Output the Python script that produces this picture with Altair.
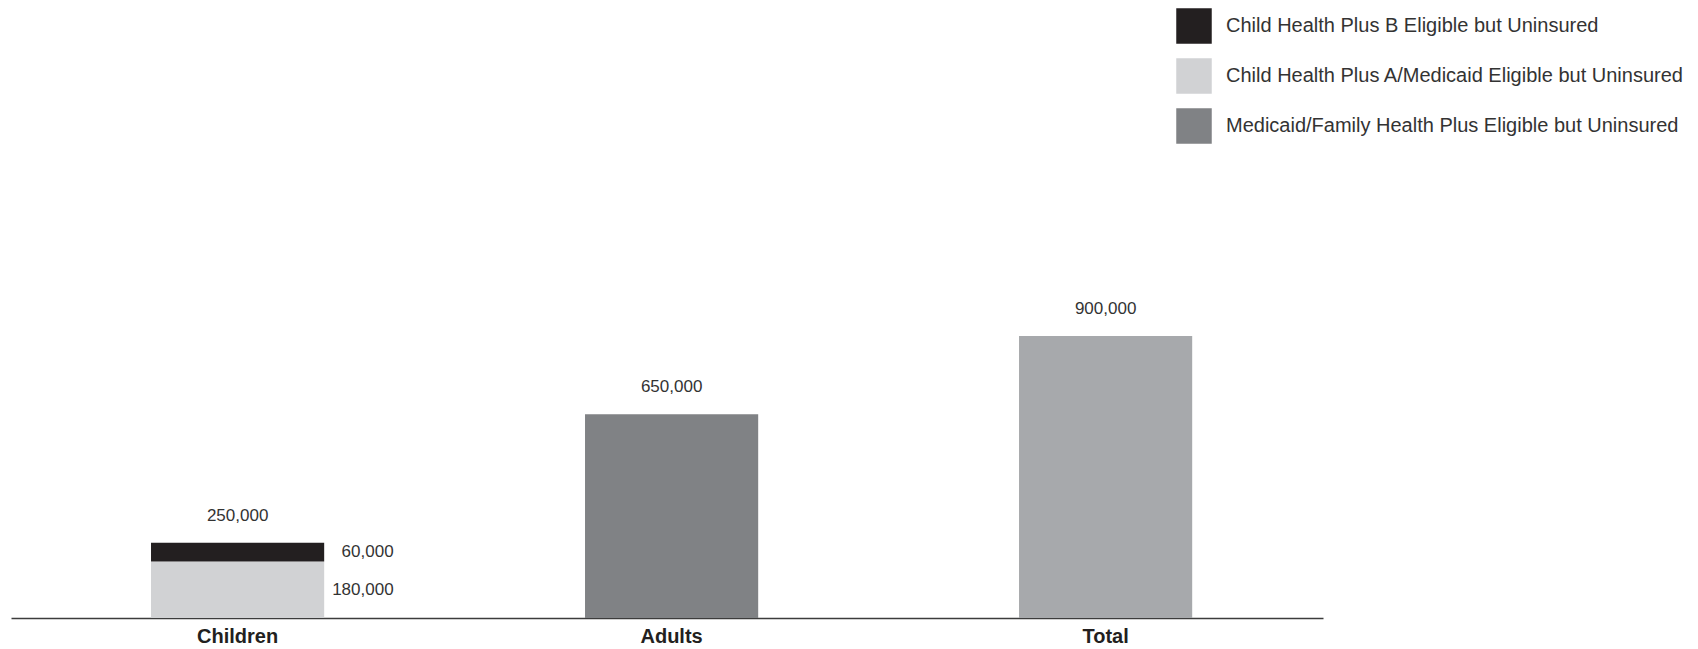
import altair as alt
import pandas as pd

# ---- data ----
categories = ["Children", "Adults", "Total"]
bar_category = ["Children", "Children", "Adults", "Total"]
bar_series = [
    "Child Health Plus A/Medicaid Eligible but Uninsured",
    "Child Health Plus B Eligible but Uninsured",
    "Medicaid/Family Health Plus Eligible but Uninsured",
    "Total",
]
bar_values = [180000, 60000, 650000, 900000]
segment_labels = ["180,000", "60,000", "", ""]
total_labels = ["250,000", "650,000", "900,000"]

legend_series = [
    "Child Health Plus B Eligible but Uninsured",
    "Child Health Plus A/Medicaid Eligible but Uninsured",
    "Medicaid/Family Health Plus Eligible but Uninsured",
]
color_domain = legend_series + ["Total"]
color_range = ["#231f20", "#d1d2d4", "#808285", "#a7a9ac"]

# ---- tables built from the arrays ----
bars = pd.DataFrame({
    "cat": bar_category,
    "series": bar_series,
    "value": bar_values,
    "seglabel": segment_labels,
})
bars["order"] = range(len(bars))
bars["top"] = bars.groupby("cat")["value"].cumsum()
bars["mid"] = bars["top"] - bars["value"] / 2

totals = pd.DataFrame({
    "cat": categories,
    "label": total_labels,
})
totals["top"] = totals["cat"].map(bars.groupby("cat")["value"].sum())

FONT = "Liberation Sans"
TEXT_COLOR = "#333333"

x_scale = alt.Scale(domain=categories, paddingInner=0.601, paddingOuter=0.312, align=0.517)
y_scale = alt.Scale(domain=[0, 1940000])

x_enc = alt.X(
    "cat:N",
    scale=x_scale,
    sort=categories,
    axis=alt.Axis(
        title=None, labelAngle=0, ticks=False, domainColor="#3c3c3c", domainWidth=1.5,
        labelFont=FONT, labelFontSize=20, labelFontWeight="bold", labelColor="#231f20",
        labelPadding=8,
    ),
)

bar_layer = alt.Chart(bars).mark_bar().encode(
    x=x_enc,
    y=alt.Y("value:Q", stack="zero", scale=y_scale, axis=None),
    color=alt.Color(
        "series:N",
        scale=alt.Scale(domain=color_domain, range=color_range),
        legend=alt.Legend(
            orient="none", legendX=1165, legendY=-2, values=legend_series, title=None,
            symbolType="square", symbolSize=1260, symbolStrokeWidth=0, symbolOpacity=1,
            labelFont=FONT, labelFontSize=20, labelColor=TEXT_COLOR, labelLimit=700,
            rowPadding=14, labelOffset=14, direction="vertical",
        ),
    ),
    order=alt.Order("order:Q"),
)

seg_layer = alt.Chart(bars).transform_filter(
    alt.datum.seglabel != ""
).mark_text(
    align="right", baseline="middle", dx=156, font=FONT, fontSize=17, color=TEXT_COLOR
).encode(
    x=alt.X("cat:N", scale=x_scale, sort=categories),
    y=alt.Y("mid:Q", scale=y_scale),
    text="seglabel:N",
)

total_layer = alt.Chart(totals).mark_text(
    align="center", baseline="middle", dy=-27, font=FONT, fontSize=17, color=TEXT_COLOR
).encode(
    x=alt.X("cat:N", scale=x_scale, sort=categories),
    y=alt.Y("top:Q", scale=y_scale),
    text="label:N",
)

chart = alt.layer(bar_layer, seg_layer, total_layer).properties(
    width=1312,
    height=608,
    padding={"left": 3, "top": 0, "right": 5, "bottom": 0},
).configure_view(stroke=None)

chart.save("out.html", embed_options={"renderer": "svg", "actions": False})
